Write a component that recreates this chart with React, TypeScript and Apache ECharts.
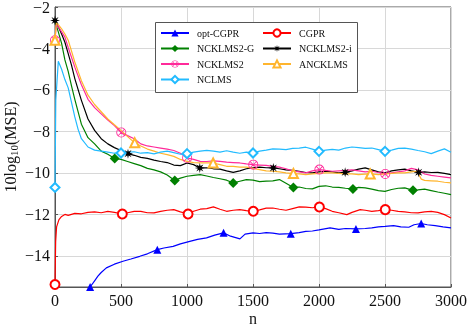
import React, { useEffect, useRef } from 'react';
import * as echarts from 'echarts';

// ---- data: [n, 10log10(MSE)] ----
const optCGPR = [[266,-15.5],[300,-15.2],[325,-14.98],[350,-14.8],[389,-14.58],[450,-14.4],[515,-14.26],[575,-14.15],[642,-14.02],[700,-13.9],[775,-13.7],[825,-13.62],[895,-13.54],[950,-13.42],[1021,-13.3],[1080,-13.2],[1148,-13.13],[1210,-13.0],[1277,-12.89],[1330,-13.05],[1401,-13.18],[1440,-12.95],[1500,-12.89],[1550,-12.92],[1600,-12.88],[1650,-12.9],[1700,-12.95],[1786,-12.93],[1850,-12.88],[1900,-12.82],[1950,-12.8],[2000,-12.75],[2084,-12.65],[2150,-12.72],[2200,-12.68],[2280,-12.7],[2350,-12.68],[2400,-12.65],[2450,-12.6],[2500,-12.58],[2565,-12.54],[2620,-12.6],[2680,-12.62],[2720,-12.5],[2774,-12.44],[2820,-12.5],[2880,-12.54],[2940,-12.6],[3000,-12.65]];
const optMarks = [266,775,1277,1786,2280,2774];

const cgpr = [[0,-15.38],[5,-13.3],[12,-12.6],[30,-12.25],[50,-12.1],[75,-12.0],[100,-12.05],[150,-11.95],[200,-11.97],[250,-11.9],[300,-11.88],[350,-11.92],[400,-11.85],[450,-11.9],[510,-11.98],[550,-11.92],[600,-11.85],[650,-11.85],[700,-11.92],[750,-11.93],[800,-11.85],[850,-11.8],[900,-11.77],[950,-11.88],[1008,-11.98],[1050,-11.85],[1100,-11.75],[1150,-11.72],[1200,-11.64],[1250,-11.75],[1300,-11.85],[1350,-11.8],[1400,-11.77],[1450,-11.82],[1502,-11.85],[1550,-11.78],[1600,-11.7],[1650,-11.69],[1700,-11.75],[1750,-11.8],[1800,-11.72],[1850,-11.64],[1900,-11.65],[1950,-11.68],[2003,-11.64],[2050,-11.72],[2100,-11.85],[2150,-11.92],[2211,-12.01],[2250,-11.9],[2312,-11.77],[2350,-11.8],[2400,-11.85],[2450,-11.82],[2502,-11.77],[2550,-11.8],[2600,-11.85],[2650,-11.88],[2700,-11.92],[2750,-11.93],[2800,-11.88],[2850,-11.85],[2900,-11.9],[2950,-12.01],[3000,-12.17]];
const cgprMarks = [0,510,1008,1502,2003,2502];

const ncklms2G = [[0,-2.7],[25,-3.2],[50,-3.75],[75,-4.55],[100,-5.1],[125,-5.8],[150,-6.45],[200,-7.65],[250,-8.3],[300,-8.6],[350,-8.95],[400,-9.1],[452,-9.3],[500,-9.35],[550,-9.45],[600,-9.55],[650,-9.65],[700,-9.78],[750,-9.85],[800,-9.95],[850,-10.1],[907,-10.36],[950,-10.25],[1000,-10.16],[1050,-10.12],[1100,-10.08],[1150,-10.15],[1200,-10.22],[1250,-10.28],[1300,-10.35],[1350,-10.48],[1400,-10.4],[1450,-10.32],[1500,-10.35],[1550,-10.42],[1600,-10.4],[1650,-10.38],[1700,-10.32],[1750,-10.5],[1806,-10.7],[1850,-10.68],[1900,-10.75],[1950,-10.77],[2000,-10.65],[2050,-10.62],[2100,-10.68],[2150,-10.7],[2200,-10.74],[2257,-10.77],[2300,-10.7],[2350,-10.72],[2400,-10.78],[2450,-10.85],[2500,-10.89],[2550,-10.8],[2600,-10.74],[2650,-10.72],[2712,-10.84],[2750,-10.82],[2800,-10.78],[2850,-10.85],[2900,-10.92],[2950,-10.98],[3000,-11.05]];
const ncklms2GMarks = [452,907,1350,1806,2257,2712];

const ncklms2i = [[0,-2.65],[25,-2.95],[50,-3.3],[75,-3.7],[100,-4.25],[125,-4.8],[150,-5.45],[200,-6.5],[250,-7.4],[300,-7.95],[350,-8.35],[400,-8.6],[450,-8.78],[500,-8.92],[553,-9.07],[600,-9.15],[650,-9.25],[700,-9.3],[750,-9.38],[800,-9.45],[850,-9.5],[900,-9.62],[950,-9.65],[1000,-9.52],[1050,-9.6],[1097,-9.76],[1150,-9.75],[1200,-9.8],[1250,-9.82],[1300,-9.9],[1350,-9.97],[1400,-9.9],[1450,-9.8],[1500,-9.76],[1550,-9.72],[1600,-9.75],[1654,-9.76],[1700,-9.8],[1750,-9.85],[1800,-9.88],[1850,-9.92],[1900,-9.98],[1950,-10.0],[2000,-9.95],[2050,-9.92],[2100,-9.95],[2150,-10.0],[2198,-9.97],[2250,-9.9],[2300,-9.82],[2350,-9.76],[2400,-9.85],[2450,-9.95],[2500,-10.0],[2550,-9.9],[2600,-9.85],[2650,-9.82],[2700,-9.9],[2755,-9.97],[2800,-9.95],[2850,-9.98],[2900,-9.97],[2950,-10.02],[3000,-10.08]];
const ncklms2iMarks = [0,553,1097,1654,2198,2755];

const ncklms2 = [[0,-3.6],[10,-2.85],[25,-2.95],[50,-3.2],[75,-3.45],[100,-3.95],[150,-4.9],[200,-5.75],[250,-6.45],[300,-6.85],[350,-7.15],[400,-7.45],[450,-7.72],[502,-8.05],[550,-8.2],[600,-8.35],[650,-8.6],[700,-8.7],[750,-8.75],[800,-8.8],[850,-8.85],[900,-8.92],[950,-9.05],[1001,-9.28],[1050,-9.35],[1100,-9.44],[1150,-9.45],[1200,-9.42],[1250,-9.44],[1300,-9.48],[1350,-9.5],[1400,-9.52],[1450,-9.56],[1502,-9.6],[1550,-9.62],[1600,-9.64],[1650,-9.68],[1700,-9.72],[1750,-9.8],[1800,-9.9],[1850,-9.95],[1900,-10.0],[1950,-9.9],[2003,-9.84],[2050,-9.88],[2100,-9.92],[2150,-9.9],[2200,-9.88],[2250,-9.85],[2300,-9.9],[2350,-9.95],[2400,-9.92],[2450,-9.98],[2502,-10.05],[2550,-10.0],[2600,-9.95],[2650,-9.9],[2700,-9.78],[2750,-9.85],[2800,-10.05],[2850,-10.12],[2900,-10.16],[2950,-10.2],[3000,-10.24]];
const ncklms2Marks = [0,502,1001,1502,2003,2502];

const ancklms = [[0,-3.6],[10,-2.75],[25,-2.85],[50,-3.05],[75,-3.3],[100,-3.6],[150,-4.65],[200,-5.55],[250,-6.25],[300,-6.7],[350,-7.05],[400,-7.4],[450,-7.68],[500,-7.95],[550,-8.25],[604,-8.55],[650,-8.7],[700,-8.85],[750,-8.95],[800,-9.05],[850,-9.12],[900,-9.2],[950,-9.35],[1000,-9.44],[1050,-9.5],[1100,-9.52],[1150,-9.52],[1198,-9.52],[1250,-9.6],[1300,-9.68],[1350,-9.68],[1400,-9.72],[1450,-9.72],[1500,-9.78],[1550,-9.84],[1600,-9.9],[1650,-9.92],[1700,-9.95],[1750,-10.0],[1806,-10.03],[1850,-10.05],[1900,-10.08],[1950,-10.05],[2000,-10.02],[2050,-10.0],[2100,-10.0],[2150,-10.02],[2200,-10.05],[2250,-10.05],[2300,-10.08],[2350,-10.06],[2388,-10.05],[2450,-10.08],[2500,-10.05],[2550,-10.02],[2600,-10.0],[2650,-10.0],[2700,-9.95],[2743,-9.92],[2775,-10.3],[2800,-10.36],[2850,-10.38],[2900,-10.4],[2950,-10.45],[3000,-10.48]];
const ancklmsMarks = [0,604,1198,1806,2388];

const nclms = [[0,-10.7],[6,-6.5],[25,-4.62],[50,-5.0],[75,-5.5],[100,-5.9],[125,-6.6],[150,-7.3],[175,-7.9],[200,-8.35],[250,-8.75],[300,-8.9],[350,-8.95],[400,-9.0],[450,-9.05],[500,-9.04],[550,-9.0],[600,-8.98],[650,-9.05],[700,-9.02],[750,-9.08],[800,-9.0],[850,-8.95],[900,-9.02],[950,-9.1],[1000,-9.07],[1050,-9.0],[1100,-8.95],[1150,-8.91],[1200,-8.95],[1250,-9.0],[1300,-8.93],[1350,-9.0],[1400,-9.05],[1450,-9.0],[1500,-9.04],[1550,-8.95],[1600,-8.9],[1650,-8.84],[1700,-8.85],[1750,-8.88],[1800,-8.82],[1850,-8.8],[1900,-8.76],[1950,-8.85],[2000,-8.96],[2050,-8.9],[2100,-8.86],[2150,-8.9],[2200,-8.8],[2250,-8.75],[2300,-8.78],[2350,-8.82],[2400,-8.8],[2450,-8.88],[2500,-8.96],[2550,-8.9],[2600,-8.82],[2650,-8.8],[2700,-8.85],[2750,-8.92],[2800,-8.98],[2850,-9.07],[2900,-8.95],[2950,-8.84],[3000,-9.0]];
const nclmsMarks = [0,500,1000,1500,2000,2500];

const legendCol1 = ['opt-CGPR', 'NCKLMS2-G', 'NCKLMS2', 'NCLMS'];
const legendCol2 = ['CGPR', 'NCKLMS2-i', 'ANCKLMS'];

const STAR = 'path://M20 10 L13.7 11.53 L17.07 17.07 L11.53 13.7 L10 20 L8.47 13.7 L2.93 17.07 L6.3 11.53 L0 10 L6.3 8.47 L2.93 2.93 L8.47 6.3 L10 0 L11.53 6.3 L17.07 2.93 L13.7 8.47 Z';
const OTIMES = 'path://M10 0 A10 10 0 1 1 10 20 A10 10 0 1 1 10 0 Z M10 1.7 A8.3 8.3 0 1 0 10 18.3 A8.3 8.3 0 1 0 10 1.7 Z M4.7 3.5 L16.5 15.3 L15.3 16.5 L3.5 4.7 Z M15.3 3.5 L16.5 4.7 L4.7 16.5 L3.5 15.3 Z';

const FONT = '"Liberation Serif", "DejaVu Serif", serif';

function mkSeries(name: string, data: number[][], marks: number[], color: string, symbol: string, size: number, hollow: boolean) {
  const markSet = new Set(marks);
  return {
    name,
    type: 'line',
    data,
    symbol,
    showSymbol: true,
    showAllSymbol: true,
    symbolSize: (v: number[]) => (markSet.has(v[0]) ? size : 0),
    lineStyle: { color, width: 1.2 },
    itemStyle: hollow ? { color, borderColor: color, borderWidth: 1.2 } : { color, borderWidth: 0 },
    emphasis: { disabled: true },
    clip: true,
  };
}

export default function App() {
  const ref = useRef<HTMLDivElement>(null);
  useEffect(() => {
    if (!ref.current) return;
    const chart = echarts.init(ref.current, undefined, { renderer: 'svg' });
    const legendCommon = {
      orient: 'vertical',
      itemWidth: 28,
      itemHeight: 9,
      itemGap: 3.5,
      padding: 0,
      selectedMode: false,
      textStyle: { fontFamily: FONT, fontSize: 10, color: '#111', lineHeight: 12, padding: [0, 0, 0, 3] },
      z: 6,
    };
    chart.setOption({
      animation: false,
      grid: {
        left: 55, right: 18, top: 7, bottom: 38, show: true, borderColor: '#555', borderWidth: 1,
        backgroundColor: 'transparent', outerBoundsMode: 'none', containLabel: false,
      },
      xAxis: {
        type: 'value', min: 0, max: 3000, interval: 500,
        name: 'n', nameLocation: 'middle', nameGap: 23, nameMoveOverlap: false,
        nameTextStyle: { fontFamily: FONT, fontSize: 16, color: '#111' },
        axisLine: { show: true, lineStyle: { color: '#555' } },
        axisTick: { show: true, inside: true, length: 3, lineStyle: { color: '#555' } },
        axisLabel: { fontFamily: FONT, fontSize: 16, color: '#111', margin: 5, formatter: (v: number) => String(v) },
        splitLine: { show: true, lineStyle: { color: '#d8d8d8', width: 1 } },
      },
      yAxis: {
        type: 'value', min: -15.5, max: -2, splitNumber: 7,
        name: '10log{sub|10}(MSE)', nameLocation: 'middle', nameGap: 36, nameMoveOverlap: false,
        nameTextStyle: {
          fontFamily: FONT, fontSize: 16, color: '#111', lineHeight: 18,
          rich: { sub: { fontFamily: FONT, fontSize: 11, lineHeight: 10, verticalAlign: 'bottom', color: '#111' } },
        },
        axisLine: { show: true, lineStyle: { color: '#555' } },
        axisTick: { show: true, inside: true, length: 3, lineStyle: { color: '#555' } },
        axisLabel: {
          fontFamily: FONT, fontSize: 16, color: '#111', margin: 5, showMinLabel: false,
          formatter: (v: number) => (Number.isInteger(v) ? String(v).replace('-', '\u2212') : ''),
        },
        splitLine: { show: true, lineStyle: { color: '#d8d8d8', width: 1 } },
      },
      legend: [
        { ...legendCommon, data: legendCol1, left: 160, top: 27 },
        { ...legendCommon, data: legendCol2, left: 262, top: 27 },
      ],
      graphic: [
        {
          type: 'rect', left: 155, top: 22, z: 5,
          shape: { width: 202, height: 70 },
          style: { fill: '#fff', stroke: '#555', lineWidth: 1 },
        },
      ],
      series: [
        mkSeries('opt-CGPR', optCGPR, optMarks, '#0000ff', 'triangle', 8, false),
        mkSeries('CGPR', cgpr, cgprMarks, '#ff0000', 'emptyCircle', 9, true),
        mkSeries('NCKLMS2-G', ncklms2G, ncklms2GMarks, '#008000', 'diamond', 10, false),
        mkSeries('NCKLMS2-i', ncklms2i, ncklms2iMarks, '#000000', STAR, 10, false),
        mkSeries('NCKLMS2', ncklms2, ncklms2Marks, '#ff2a9a', OTIMES, 10, false),
        mkSeries('ANCKLMS', ancklms, ancklmsMarks, '#ffb52e', 'emptyTriangle', 9, true),
        mkSeries('NCLMS', nclms, nclmsMarks, '#22bbff', 'emptyDiamond', 9, true),
      ],
    });
    return () => chart.dispose();
  }, []);
  return <div ref={ref} style={{ position: 'fixed', left: 0, top: 0, width: 469, height: 325 }} />;
}
